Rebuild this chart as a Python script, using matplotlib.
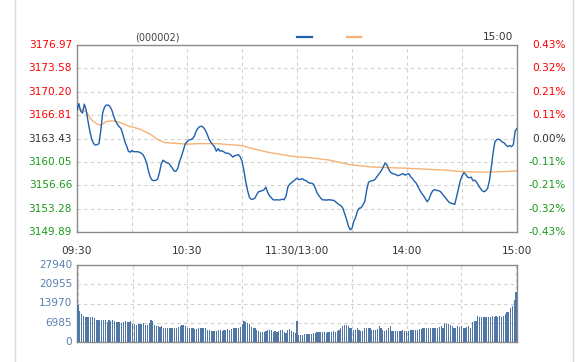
import numpy as np
import matplotlib
matplotlib.use("Agg")
import matplotlib.pyplot as plt
from matplotlib.lines import Line2D
from matplotlib.transforms import blended_transform_factory

# 分时数据 (000002), 每分钟一个点, 09:30-11:30 / 13:00-15:00
prev_close = 3163.43
price = [
    3167.54, 3168.49, 3167.40, 3167.11, 3168.41, 3167.54, 3165.95, 3164.50, 3163.34, 3162.71,
    3162.47, 3162.54, 3162.69, 3164.64, 3167.11, 3167.98, 3168.27, 3168.27, 3168.05, 3167.54,
    3166.67, 3165.95, 3165.51, 3165.15, 3164.86, 3164.06, 3163.05, 3162.40, 3161.60, 3161.45,
    3161.67, 3161.52, 3161.52, 3161.52, 3161.45, 3161.31, 3161.09, 3160.58, 3159.86, 3158.70,
    3157.83, 3157.39, 3157.32, 3157.39, 3157.54, 3158.55, 3159.78, 3160.29, 3160.07, 3159.90,
    3159.86, 3159.49, 3159.13, 3158.70, 3158.70, 3159.13, 3160.15, 3160.87, 3161.74, 3162.61,
    3162.98, 3163.19, 3163.27, 3163.41, 3163.77, 3164.50, 3164.93, 3165.15, 3165.22, 3165.01,
    3164.64, 3164.06, 3163.34, 3162.90, 3162.54, 3162.25, 3161.60, 3161.96, 3161.60, 3161.67,
    3161.52, 3161.31, 3161.31, 3161.23, 3161.02, 3160.73, 3160.94, 3161.02, 3161.09, 3160.80,
    3160.15, 3158.84, 3157.25, 3155.94, 3154.93, 3154.64, 3154.64, 3154.78, 3155.29, 3155.72,
    3155.80, 3155.87, 3156.01, 3156.38, 3155.65, 3155.14, 3154.85, 3154.56, 3154.53, 3154.56,
    3154.52, 3154.56, 3154.64, 3154.56, 3155.07, 3156.38, 3156.81, 3157.03, 3157.25, 3157.46,
    3157.68,
    3157.46, 3157.54, 3157.61, 3157.39, 3157.32, 3157.10, 3156.96, 3156.96, 3156.81, 3156.23,
    3155.51, 3155.14, 3154.78, 3154.53, 3154.56, 3154.49, 3154.56, 3154.56, 3154.49, 3154.49,
    3154.27, 3154.05, 3153.84, 3153.69, 3153.33, 3152.53, 3151.73, 3150.79, 3150.21, 3150.43,
    3151.44, 3152.02, 3152.97, 3153.33, 3153.40, 3153.84, 3154.34, 3155.94, 3157.10, 3157.25,
    3157.32, 3157.39, 3157.68, 3158.04, 3158.41, 3158.77, 3159.28, 3159.86, 3159.64, 3158.99,
    3158.55, 3158.36, 3158.30, 3158.19, 3158.04, 3158.12, 3158.26, 3158.33, 3158.12, 3158.26,
    3158.33, 3157.90, 3157.61, 3157.25, 3156.96, 3156.45, 3155.94, 3155.51, 3155.14, 3154.71,
    3154.27, 3154.64, 3155.36, 3155.87, 3156.01, 3155.94, 3155.87, 3155.80, 3155.51, 3155.14,
    3154.85, 3154.49, 3154.20, 3154.05, 3154.01, 3153.87, 3154.93, 3156.09, 3157.25, 3157.97,
    3158.48, 3158.26, 3157.83, 3157.75, 3157.83, 3157.32, 3157.39, 3157.10, 3156.59, 3156.23,
    3155.87, 3155.72, 3155.87, 3156.23, 3157.39, 3159.28, 3161.45, 3162.98, 3163.27, 3163.34,
    3163.19, 3162.90, 3162.80, 3162.47, 3162.25, 3162.40, 3162.25, 3162.54, 3164.50, 3164.89,
]

# 均价线 (读取的分钟位置)
avg_min = [0, 5, 8, 11, 13, 16, 19, 22, 25, 28, 31, 35, 38, 40, 44, 48, 52, 60, 67, 76,
           83, 90, 97, 104, 111, 118, 127, 138, 149, 160, 171, 179, 190, 201, 209, 220, 231, 240]
avg_price = [3167.83, 3167.33, 3166.09, 3165.51, 3165.37, 3165.88, 3165.99, 3165.88, 3165.59, 3165.22,
             3165.04, 3164.72, 3164.28, 3164.06, 3163.27, 3162.83, 3162.76, 3162.61, 3162.69, 3162.69,
             3162.54, 3162.40, 3161.89, 3161.45, 3161.13, 3160.83, 3160.65, 3160.29, 3159.64, 3159.32,
             3159.20, 3159.13, 3158.99, 3158.84, 3158.65, 3158.55, 3158.62, 3158.74]

volume = [
    13370, 11300, 10100, 9500, 9100, 9100, 8900, 8900, 9100, 8600,
    8150, 7900, 7900, 8150, 7900, 7900, 7300, 8150, 7600, 7900,
    7700, 7300, 7300, 7200, 6900, 7300, 7500, 7400, 7300, 7500,
    6700, 6450, 6100, 6700, 6700, 6450, 6900, 6300, 6000, 6900,
    7900, 7500, 6100, 5700, 5700, 5500, 5700, 5200, 5200, 4900,
    5200, 5200, 5200, 5000, 5000, 5500, 5700, 6100, 6100, 5700,
    5200, 5200, 5200, 5000, 4700, 4700, 5000, 5000, 4900, 5200,
    5200, 4500, 4300, 4000, 4000, 4000, 4000, 4300, 4300, 4000,
    4300, 4500, 4700, 4500, 4700, 5200, 5200, 4900, 5200, 5600,
    6700, 7500, 7300, 7000, 6400, 5500, 5200, 4900, 4500, 4000,
    3700, 3700, 3700, 4000, 4300, 4300, 4300, 3700, 4000, 3700,
    4000, 4500, 4300, 3700, 3300, 4300, 4800, 4000, 3500, 3300,
    7540,
    2450, 2450, 2450, 2800, 2800, 3050, 3050, 3050, 3300,
    3300, 3650, 3500, 3500, 3650, 3500, 3300, 3650, 3500, 3800,
    4000, 3800, 4000, 4300, 5200, 5700, 6100, 6100, 5700, 5200,
    4900, 4500, 4300, 4900, 4300, 4000, 4000, 4900, 5000, 5200,
    5200, 4500, 4300, 4500, 4700, 5700, 5200, 4300, 4000, 4300,
    5200, 5700, 4000, 4000, 4000, 4000, 4000, 4000, 4300, 4000,
    4000, 4000, 4300, 4300, 4300, 4500, 4500, 4700, 4700, 4900,
    4900, 4900, 5000, 5000, 4900, 4900, 5200, 5200, 5500, 5700,
    5200, 6900, 6700, 6400, 6100, 5700, 5200, 5200, 5700, 5500,
    5700, 5200, 5200, 5500, 5700, 5200, 7300, 7500, 7500, 9400,
    9100, 8900, 8900, 9100, 8900, 9100, 9100, 9400, 9100, 9400,
    9100, 9400, 9100, 9400, 10100, 10900, 10900, 12200, 13000, 15200, 18200,
]

price_ticks = [3149.89, 3153.28, 3156.66, 3160.05, 3163.43, 3166.81, 3170.20, 3173.58, 3176.97]
pct_labels = ["-0.43%", "-0.32%", "-0.21%", "-0.11%", "0.00%", "0.11%", "0.21%", "0.32%", "0.43%"]
vol_ticks = [0, 6985, 13970, 20955, 27940]
time_pos = [0, 60, 120, 180, 240]
time_labels = ["09:30", "10:30", "11:30/13:00", "14:00", "15:00"]

RED = "#ff0000"
GREEN = "#1a9a1a"
GRAY = "#333333"
GRID = "#d0d0d0"
FRAME = "#8a8a8a"

plt.rcParams['font.family'] = ['DejaVu Sans']

W, H = 584, 362
fig = plt.figure(figsize=(W / 100, H / 100), dpi=100)
fig.patch.set_facecolor("white")

def fx(px):
    return px / W

def fy(py):
    return 1 - py / H

ax = fig.add_axes([fx(77), fy(232), fx(517) - fx(77), fy(45) - fy(232)])
axv = fig.add_axes([fx(77), fy(342), fx(517) - fx(77), fy(265) - fy(342)])

# 价格面板
t = np.arange(len(price))
ax.plot(t, price, color="#1f5fae", lw=1.0, zorder=3)
ax.plot(avg_min, avg_price, color="#f6b274", lw=1.0, zorder=2)
ax.set_xlim(0, 240)
ax.set_ylim(price_ticks[0], price_ticks[-1])
ax.set_yticks(price_ticks)
ax.set_xticks(np.arange(0, 241, 30))
ax.grid(True, color=GRID, ls=(0, (3, 3)), lw=0.8)
ax.tick_params(length=0, labelbottom=False, labelleft=False)
for s in ax.spines.values():
    s.set_color(FRAME)
    s.set_linewidth(1.0)

trans_l = blended_transform_factory(fig.transFigure, ax.transData)
for v, lab in zip(price_ticks, pct_labels):
    if v > prev_close + 0.01:
        c = RED
    elif v < prev_close - 0.01:
        c = GREEN
    else:
        c = GRAY
    ax.text(fx(72), v, f"{v:.2f}", transform=trans_l, ha="right", va="center",
            fontsize=7.6, color=c)
    ax.text(fx(566), v, lab, transform=trans_l, ha="right", va="center",
            fontsize=7.6, color=c)

for p, lab in zip(time_pos, time_labels):
    xf = fx(77) + (fx(517) - fx(77)) * p / 240
    fig.text(xf, fy(251), lab, ha="center", va="center", fontsize=7.6, color=GRAY)

# 顶部标题与图例
fig.text(fx(157), fy(37), "(000002)", ha="center", va="center", fontsize=7, color="#444444")
fig.text(fx(498), fy(37), "15:00", ha="center", va="center", fontsize=7.6, color=GRAY)
fig.add_artist(Line2D([fx(297), fx(312)], [fy(37), fy(37)], color="#1f5fae", lw=1.6))
fig.add_artist(Line2D([fx(347), fx(361)], [fy(37), fy(37)], color="#f6b274", lw=1.6))

# 成交量面板
axv.bar(np.arange(len(volume)), volume, width=0.65, color="#5077a6", zorder=3)
axv.set_xlim(-0.5, 240.5)
axv.set_ylim(0, vol_ticks[-1])
axv.set_yticks(vol_ticks)
axv.set_xticks(np.arange(0, 241, 30))
axv.grid(True, color=GRID, ls=(0, (3, 3)), lw=0.8, zorder=0)
axv.tick_params(length=0, labelbottom=False, labelleft=False)
for s in axv.spines.values():
    s.set_color(FRAME)
    s.set_linewidth(1.0)
trans_v = blended_transform_factory(fig.transFigure, axv.transData)
for v in vol_ticks:
    axv.text(fx(72), v, str(v), transform=trans_v, ha="right", va="center",
             fontsize=7.6, color="#5a7fb0")

# 外框竖线
fig.add_artist(Line2D([fx(15), fx(15)], [0, 1], color="#d5dde6", lw=1))
fig.add_artist(Line2D([fx(573), fx(573)], [0, 1], color="#d5dde6", lw=1))

fig.savefig("out.png", dpi=100)
